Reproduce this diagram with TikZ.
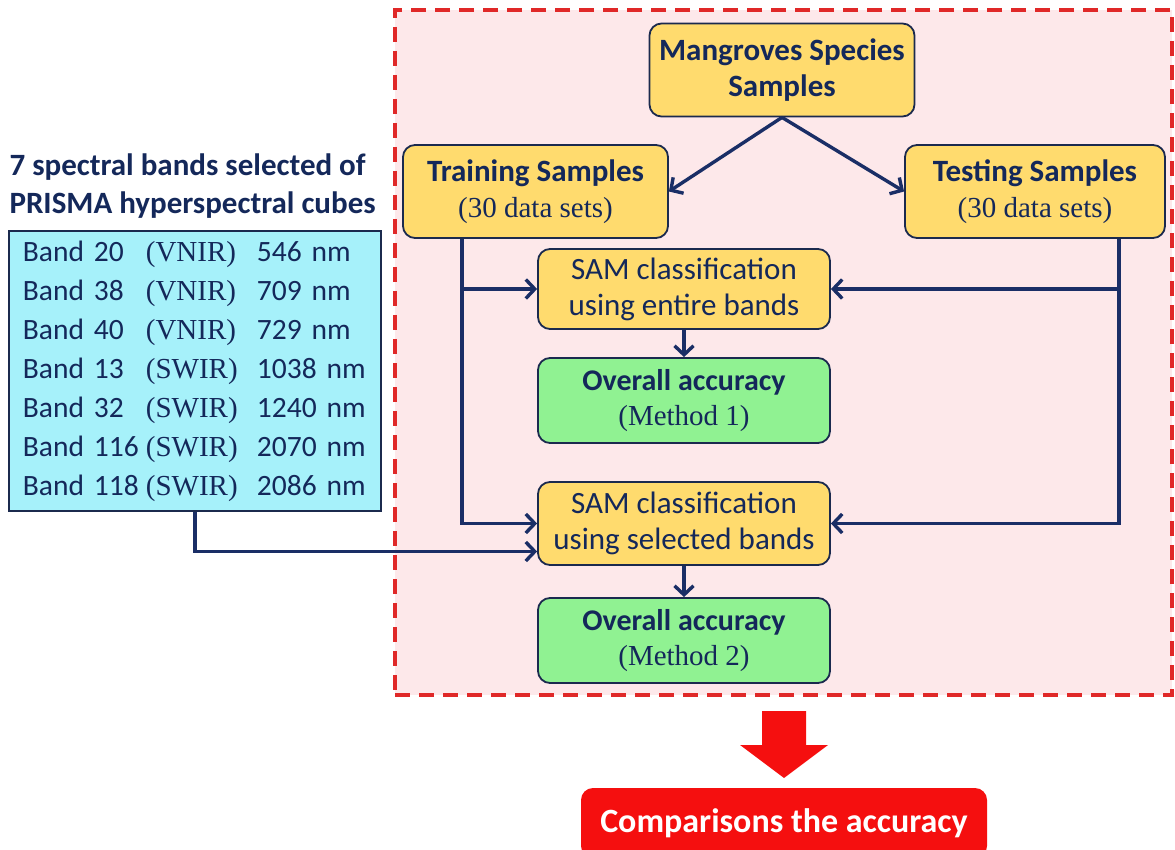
\documentclass[tikz,border=0pt]{standalone}
\usepackage{fontspec}
\setmainfont{Carlito}
\newfontfamily\cambria{Liberation Serif}
\usepackage{xcolor}
\usepackage{tikz}
\usetikzlibrary{arrows.meta,positioning,calc}

\definecolor{navytext}{HTML}{14285A}
\definecolor{boxline}{HTML}{1B2A4E}
\definecolor{linknavy}{HTML}{1A2E66}
\definecolor{gold}{HTML}{FFDB6E}
\definecolor{mint}{HTML}{90F292}
\definecolor{aqua}{HTML}{A6F1FA}
\definecolor{blush}{HTML}{FDE8EA}
\definecolor{dashred}{HTML}{E02828}
\definecolor{redfill}{HTML}{F50F0F}

\newcommand{\subnote}[1]{{\cambria\fontsize{29}{30}\selectfont #1}}
\newcommand{\bandrow}[3]{\mbox{\makebox[123pt][l]{#1}\makebox[111pt][l]{{\cambria\fontsize{29}{30}\selectfont #2}}#3}}

\begin{document}
\begin{tikzpicture}[
    x=1pt, y=-1pt,
    font=\fontsize{31}{37}\selectfont,
    >={Straight Barb[length=9pt,width=19pt]},
    box/.style={draw=boxline, line width=1.8pt, rounded corners=12pt, align=center, inner sep=0pt, text=navytext},
    sample/.style={box, fill=gold, minimum width=265pt, minimum height=93pt, font=\fontsize{31}{36}\selectfont\bfseries},
    sam/.style={box, fill=gold, minimum width=292pt, minimum height=80pt, font=\fontsize{31}{36}\selectfont},
    result/.style={box, fill=mint, minimum width=292pt, minimum height=85pt, font=\fontsize{30}{35}\selectfont\bfseries},
    region/.style={draw=dashred, fill=blush, line width=3.4pt, dash pattern=on 15pt off 9pt, minimum width=777pt, minimum height=685pt, inner sep=0pt},
    link/.style={->, draw=linknavy, line width=3.4pt}
]
\useasboundingbox (0,0) rectangle (1175,850);

% dashed frame round the SAM workflow
\node[region] (frame) at (783.5,352.5) {};

\node[sample] (mangroves) at (782,70) {Mangroves Species\\Samples};
\node[sample] (training) at (535.5,191.5) {Training Samples\\\subnote{\mdseries(30 data sets)}};
\node[sample, minimum width=260pt] (testing) at (1035,191.5) {Testing Samples\\\subnote{\mdseries(30 data sets)}};
\node[sam] (samall) at (684,289) {SAM classification\\using entire bands};
\node[result] (oa1) at (684,400.5) {Overall accuracy\\\subnote{\mdseries(Method 1)}};
\node[sam, minimum height=83pt] (samsel) at (684,523.5) {SAM classification\\using selected bands};
\node[result] (oa2) at (684,640.5) {Overall accuracy\\\subnote{\mdseries(Method 2)}};

% band list on the left
\node[anchor=west, align=left, text=navytext, font=\fontsize{31}{38}\selectfont\bfseries] (title) at (6,186) {7 spectral bands selected of\\PRISMA hyperspectral cubes};
\node[draw=boxline, line width=1.8pt, fill=aqua, text=navytext, align=left, anchor=north west,
      minimum width=372pt, minimum height=280pt, inner xsep=14pt, text width=344pt,
      font=\fontsize{29.5}{39}\selectfont] (bands) at (8,230) {%
  \bandrow{Band 20}{(VNIR)}{546 nm}\\
  \bandrow{Band 38}{(VNIR)}{709 nm}\\
  \bandrow{Band 40}{(VNIR)}{729 nm}\\
  \bandrow{Band 13}{(SWIR)}{1038 nm}\\
  \bandrow{Band 32}{(SWIR)}{1240 nm}\\
  \bandrow{Band 116}{(SWIR)}{2070 nm}\\
  \bandrow{Band 118}{(SWIR)}{2086 nm}};

\node[fill=redfill, rounded corners=12pt, minimum width=406pt, minimum height=70pt, text=white,
      font=\fontsize{34}{38}\selectfont\bfseries] (compare) at (784,823) {Comparisons the accuracy};

\coordinate (ltrunk) at ([xshift=60pt]training.south west);
\coordinate (rtrunk) at ([xshift=-47pt]testing.south east);

\draw[link] (mangroves.south) -- (training.east);
\draw[link] (mangroves.south) -- (testing.west);
\draw[link] (ltrunk) |- (samsel.west);
\draw[link] (ltrunk |- samall.west) -- (samall.west);
\draw[link] (rtrunk) |- (samsel.east);
\draw[link] (rtrunk |- samall.east) -- (samall.east);
\draw[link] (samall) -- (oa1);
\draw[link] (samsel) -- (oa2);
\draw[link] (bands.south) |- ([yshift=-28pt]samsel.west);

% block arrow down to the comparison
\fill[redfill] (762,711) -- (806,711) -- (806,745) -- (828,745) -- (784,778)
  -- (740,745) -- (762,745) -- cycle;
\end{tikzpicture}
\end{document}
